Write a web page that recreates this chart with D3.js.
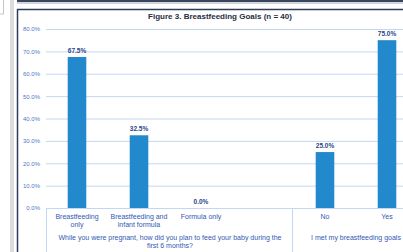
<!DOCTYPE html>
<html>
<head>
<meta charset="utf-8">
<script src="https://cdnjs.cloudflare.com/ajax/libs/d3/7.8.5/d3.min.js"></script>
<style>
	html, body { margin:0; padding:0; background:#fff; overflow:hidden; }
	svg { display:block; font-family:"Liberation Sans", Arial, sans-serif; }
</style>
</head>
<body>
<div id="result"></div>
<script>
// chart values
var title = "Figure 3. Breastfeeding Goals (n = 40)";
var groups = [
	"While you were pregnant, how did you plan to feed your baby during the\nfirst 6 months?",
	"I met my breastfeeding goals"
];
var categories = ["Breastfeeding\nonly", "Breastfeeding and\ninfant formula", "Formula only", "No", "Yes"];
var categoryGroup = [0, 0, 0, 1, 1];
var values = [67.5, 32.5, 0.0, 25.0, 75.0];
var yTicks = [0, 10, 20, 30, 40, 50, 60, 70, 80];

(function(){
	'use strict';

	var option = {
		"width":403,
		"height":252,
		"left":46,
		"right":418,
		"top":29,
		"bottom":208
	};

	var svg = d3.select("#result")
		.append("svg")
		.attr("width",option.width)
		.attr("height",option.height);

	// window decorations around the chart
	svg.append("rect").attr("x",10).attr("y",0).attr("width",4).attr("height",option.height).attr("fill","#dcdcdc");
	svg.append("line").attr("x1",3.5).attr("x2",3.5).attr("y1",0).attr("y2",14).attr("stroke","#c4c4c4");
	svg.append("line").attr("x1",0).attr("x2",3.5).attr("y1",14).attr("y2",14).attr("stroke","#c4c4c4");
	svg.append("line").attr("x1",17).attr("x2",option.width).attr("y1",1).attr("y2",1).attr("stroke","#3b465c").attr("stroke-width",2);
	svg.append("line").attr("x1",17).attr("x2",option.width).attr("y1",3).attr("y2",3).attr("stroke","#a3acbd").attr("stroke-width",1);
	svg.append("line").attr("x1",17).attr("x2",option.width).attr("y1",9.5).attr("y2",9.5).attr("stroke","#2d3b5c").attr("stroke-width",1.5);
	svg.append("line").attr("x1",17.5).attr("x2",17.5).attr("y1",9).attr("y2",option.height).attr("stroke","#2d3b5c").attr("stroke-width",1.5);

	// x keys: a blank slot between the two groups
	var keys = [];
	categories.forEach(function(c,i){
		if(i>0 && categoryGroup[i]!==categoryGroup[i-1]){ keys.push("gap"+i); }
		keys.push("c"+i);
	});

	var x = d3.scaleBand()
		.domain(keys)
		.range([option.left,option.right])
		.paddingInner(0.7)
		.paddingOuter(0.35);

	var y = d3.scaleLinear()
		.domain([0,80])
		.range([option.bottom,option.top]);

	// gridlines + y axis labels
	var yAxis = d3.axisLeft(y)
		.tickValues(yTicks)
		.tickSize(-(option.width-option.left))
		.tickPadding(6)
		.tickFormat(function(d){return d3.format(".1f")(d)+"%";});

	var gy = svg.append("g")
		.attr("transform","translate("+option.left+",0)")
		.call(yAxis);
	gy.select(".domain").remove();
	gy.selectAll("line").attr("stroke","#c3d8f0").attr("stroke-width",1);
	gy.selectAll("text")
		.attr("fill","#4f78c8")
		.attr("font-size","6px")
		.attr("font-family","Liberation Sans, Arial, sans-serif");

	// title
	svg.append("text")
		.attr("x",220)
		.attr("y",18.5)
		.attr("text-anchor","middle")
		.attr("font-size","8px")
		.attr("font-weight","bold")
		.attr("fill","#262e40")
		.text(title);

	// bars
	var data = values.map(function(v,i){return {"key":"c"+i,"value":v};});

	svg.selectAll("rect.bar")
		.data(data)
		.enter()
		.append("rect")
		.attr("class","bar")
		.attr("x",function(d){return x(d.key);})
		.attr("y",function(d){return y(d.value);})
		.attr("width",x.bandwidth())
		.attr("height",function(d){return y(0)-y(d.value);})
		.attr("fill","#2189cc");

	svg.selectAll("text.val")
		.data(data)
		.enter()
		.append("text")
		.attr("class","val")
		.attr("x",function(d){return x(d.key)+x.bandwidth()/2;})
		.attr("y",function(d){return y(d.value)-4;})
		.attr("text-anchor","middle")
		.attr("font-size","6.5px")
		.attr("font-weight","bold")
		.attr("fill","#29458a")
		.text(function(d){return d3.format(".1f")(d.value)+"%";});

	// category axis box
	var step = x.step();
	var axisColor = "#c3d8f0";
	svg.append("line")
		.attr("x1",option.left).attr("x2",option.width)
		.attr("y1",option.bottom+0.5).attr("y2",option.bottom+0.5)
		.attr("stroke",axisColor);
	svg.append("line")
		.attr("x1",option.left+0.5).attr("x2",option.left+0.5)
		.attr("y1",option.bottom).attr("y2",option.height)
		.attr("stroke",axisColor);

	var firstOfGroup = keys.indexOf("c"+categoryGroup.indexOf(1));
	var divX = option.left+step*firstOfGroup;
	svg.append("line")
		.attr("x1",divX-1.5).attr("x2",divX-1.5)
		.attr("y1",option.bottom).attr("y2",option.height)
		.attr("stroke",axisColor);

	var labelFont = "7px";
	var labelColor = "#3158b4";

	categories.forEach(function(c,i){
		var cx = x("c"+i)+x.bandwidth()/2;
		var lines = c.split("\n");
		svg.append("text")
			.attr("text-anchor","middle")
			.attr("font-size",labelFont)
			.attr("fill",labelColor)
			.selectAll("tspan")
			.data(lines)
			.enter()
			.append("tspan")
			.attr("x",cx)
			.attr("y",function(d,j){return 219+j*7.5;})
			.text(function(d){return d;});
	});

	groups.forEach(function(g,gi){
		var x0 = gi===0 ? option.left : divX;
		var x1 = gi===0 ? divX : option.right;
		var lines = g.split("\n");
		svg.append("text")
			.attr("text-anchor","middle")
			.attr("font-size",labelFont)
			.attr("fill",labelColor)
			.selectAll("tspan")
			.data(lines)
			.enter()
			.append("tspan")
			.attr("x",(x0+x1)/2)
			.attr("y",function(d,j){return 240+j*8;})
			.text(function(d){return d;});
	});

})();
</script>
</body>
</html>
